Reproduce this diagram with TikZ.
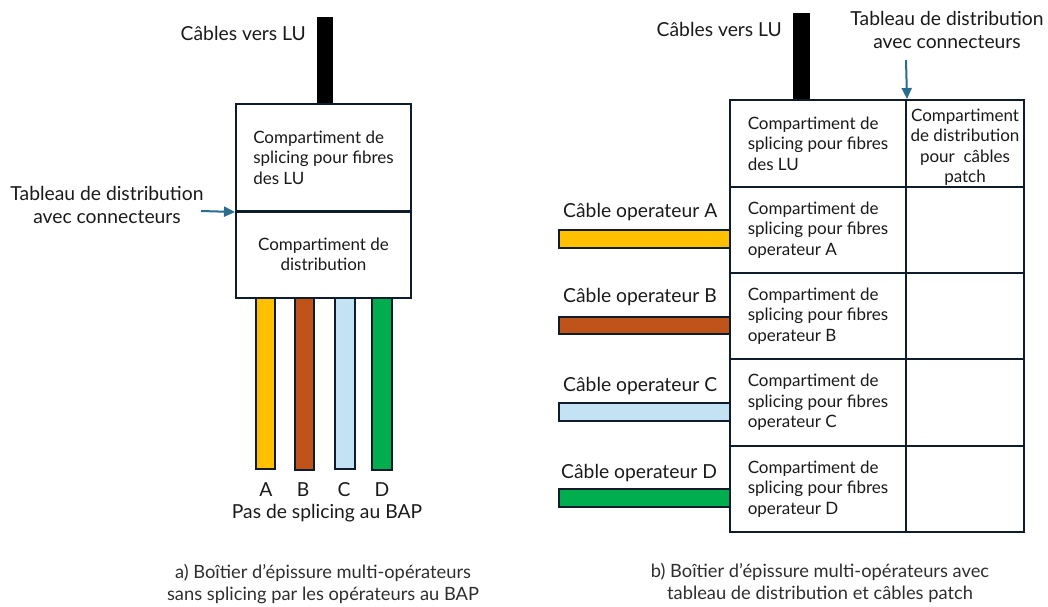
\documentclass[tikz,border=0pt]{standalone}
\usepackage{fontspec}
\setmainfont{Lato}
\usetikzlibrary{arrows.meta}
\definecolor{ln}{HTML}{0F1C2B}
\definecolor{txt}{HTML}{1A1A1A}
\definecolor{cap}{HTML}{2E2E2E}
\definecolor{arr}{HTML}{2A6C8E}
\definecolor{cA}{HTML}{FFC000}
\definecolor{cB}{HTML}{C0531A}
\definecolor{cC}{HTML}{C3E2F4}
\definecolor{cD}{HTML}{00AE4F}
\begin{document}
\begin{tikzpicture}[x=1pt,y=-1pt,
  every node/.style={font=\fontsize{17}{20.5}\selectfont, text=txt},
  comp/.style={draw=ln, line width=2pt, fill=white, inner sep=0pt, align=left},
  compc/.style={draw=ln, line width=2pt, fill=white, inner sep=0pt, align=center},
  cable/.style={draw=ln, line width=1.8pt, inner sep=0pt},
  lucable/.style={fill=black, draw=black, inner sep=0pt},
  lbl/.style={inner sep=0pt, font=\fontsize{19.3}{23.5}\selectfont},
  capt/.style={inner sep=0pt, align=center, text=cap, font=\fontsize{18.3}{22}\selectfont},
  pointer/.style={draw=arr, line width=2pt, -{Triangle[length=11pt,width=10pt]}}
]
\useasboundingbox (0,0) rectangle (1048,606);

% ---------- a) ----------
\node[lucable, minimum width=15pt, minimum height=87pt] (luA) at (324.5,60.5) {};
\node[lbl, anchor=east] (luAlbl) at (306,33) {Câbles vers LU};

\node[cable, fill=cA, minimum width=19pt, minimum height=172pt] (opA) at (265.5,383) {};
\node[cable, fill=cB, minimum width=19pt, minimum height=173pt] (opB) at (304.5,383.5) {};
\node[cable, fill=cC, minimum width=20pt, minimum height=172pt] (opC) at (345,383) {};
\node[cable, fill=cD, minimum width=20pt, minimum height=173pt] (opD) at (382,383.5) {};

\node[comp, minimum width=175pt, minimum height=107pt] (lsplice) at (323.5,157.5)
  {Compartiment de\\splicing pour fibres\\des LU};
\node[compc, minimum width=175pt, minimum height=87pt] (ldist) at (323.5,254.5)
  {Compartiment de\\distribution};
\draw[ln, line width=2.8pt] (lsplice.south west) -- (lsplice.south east);

\node[lbl, align=center] (ltab) at (107,205) {Tableau de distribution\\avec connecteurs};
\coordinate (ltabend) at (201,211);
\draw[pointer] (ltabend) -- (lsplice.south west);

\node[lbl] (la) at (266,490) {A};
\node[lbl] (lb) at (303,490) {B};
\node[lbl] (lc) at (344,490) {C};
\node[lbl] (ld) at (382,490) {D};
\node[lbl] (lpas) at (327,513) {Pas de splicing au BAP};

\node[capt] (capa) at (323,584) {a) Boîtier d’épissure multi-opérateurs\\sans splicing par les opérateurs au BAP};

% ---------- b) ----------
\node[lucable, minimum width=16pt, minimum height=87pt] (luB) at (801,56.5) {};
\node[lbl, anchor=east] (luBlbl) at (782,29) {Câbles vers LU};

\node[lbl, align=center] (rtab) at (947,30) {Tableau de distribution\\avec connecteurs};

\node[cable, fill=cA, minimum width=171pt, minimum height=18pt] (rA) at (644.5,239) {};
\node[cable, fill=cB, minimum width=171pt, minimum height=17pt] (rB) at (644.5,325.5) {};
\node[cable, fill=cC, minimum width=171pt, minimum height=18pt] (rC) at (644.5,412) {};
\node[cable, fill=cD, minimum width=171pt, minimum height=18pt] (rD) at (644.5,498) {};

\node[lbl, anchor=west] (rAl) at (563,212) {Câble operateur A};
\node[lbl, anchor=west] (rBl) at (563,297) {Câble operateur B};
\node[lbl, anchor=west] (rCl) at (563,386) {Câble operateur C};
\node[lbl, anchor=west] (rDl) at (561,473) {Câble operateur D};

\node[comp, minimum width=176pt, minimum height=87pt] (rlu) at (818,143.5)
  {Compartiment de\\splicing pour fibres\\des LU};
\node[comp, minimum width=176pt, minimum height=86pt] (rsA) at (818,230)
  {Compartiment de\\splicing pour fibres\\operateur A};
\node[comp, minimum width=176pt, minimum height=86pt] (rsB) at (818,316)
  {Compartiment de\\splicing pour fibres\\operateur B};
\node[comp, minimum width=176pt, minimum height=87pt] (rsC) at (818,402.5)
  {Compartiment de\\splicing pour fibres\\operateur C};
\node[comp, minimum width=176pt, minimum height=86pt] (rsD) at (818,489)
  {Compartiment de\\splicing pour fibres\\operateur D};

\node[compc, minimum width=118pt, minimum height=87pt] (rd0) at (965,143.5) {};
\node[inner sep=0pt, align=center] (rd0t) at (965,147) {Compartiment\\de distribution\\pour \ câbles\\patch};
\node[compc, minimum width=118pt, minimum height=86pt] (rd1) at (965,230) {};
\node[compc, minimum width=118pt, minimum height=86pt] (rd2) at (965,316) {};
\node[compc, minimum width=118pt, minimum height=87pt] (rd3) at (965,402.5) {};
\node[compc, minimum width=118pt, minimum height=86pt] (rd4) at (965,489) {};

\coordinate (rtabend) at (906,60);
\draw[pointer] (rtabend) -- (rlu.north east);

\node[capt] (capb) at (820,583) {b) Boîtier d’épissure multi-opérateurs avec\\tableau de distribution et câbles patch};
\end{tikzpicture}
\end{document}
